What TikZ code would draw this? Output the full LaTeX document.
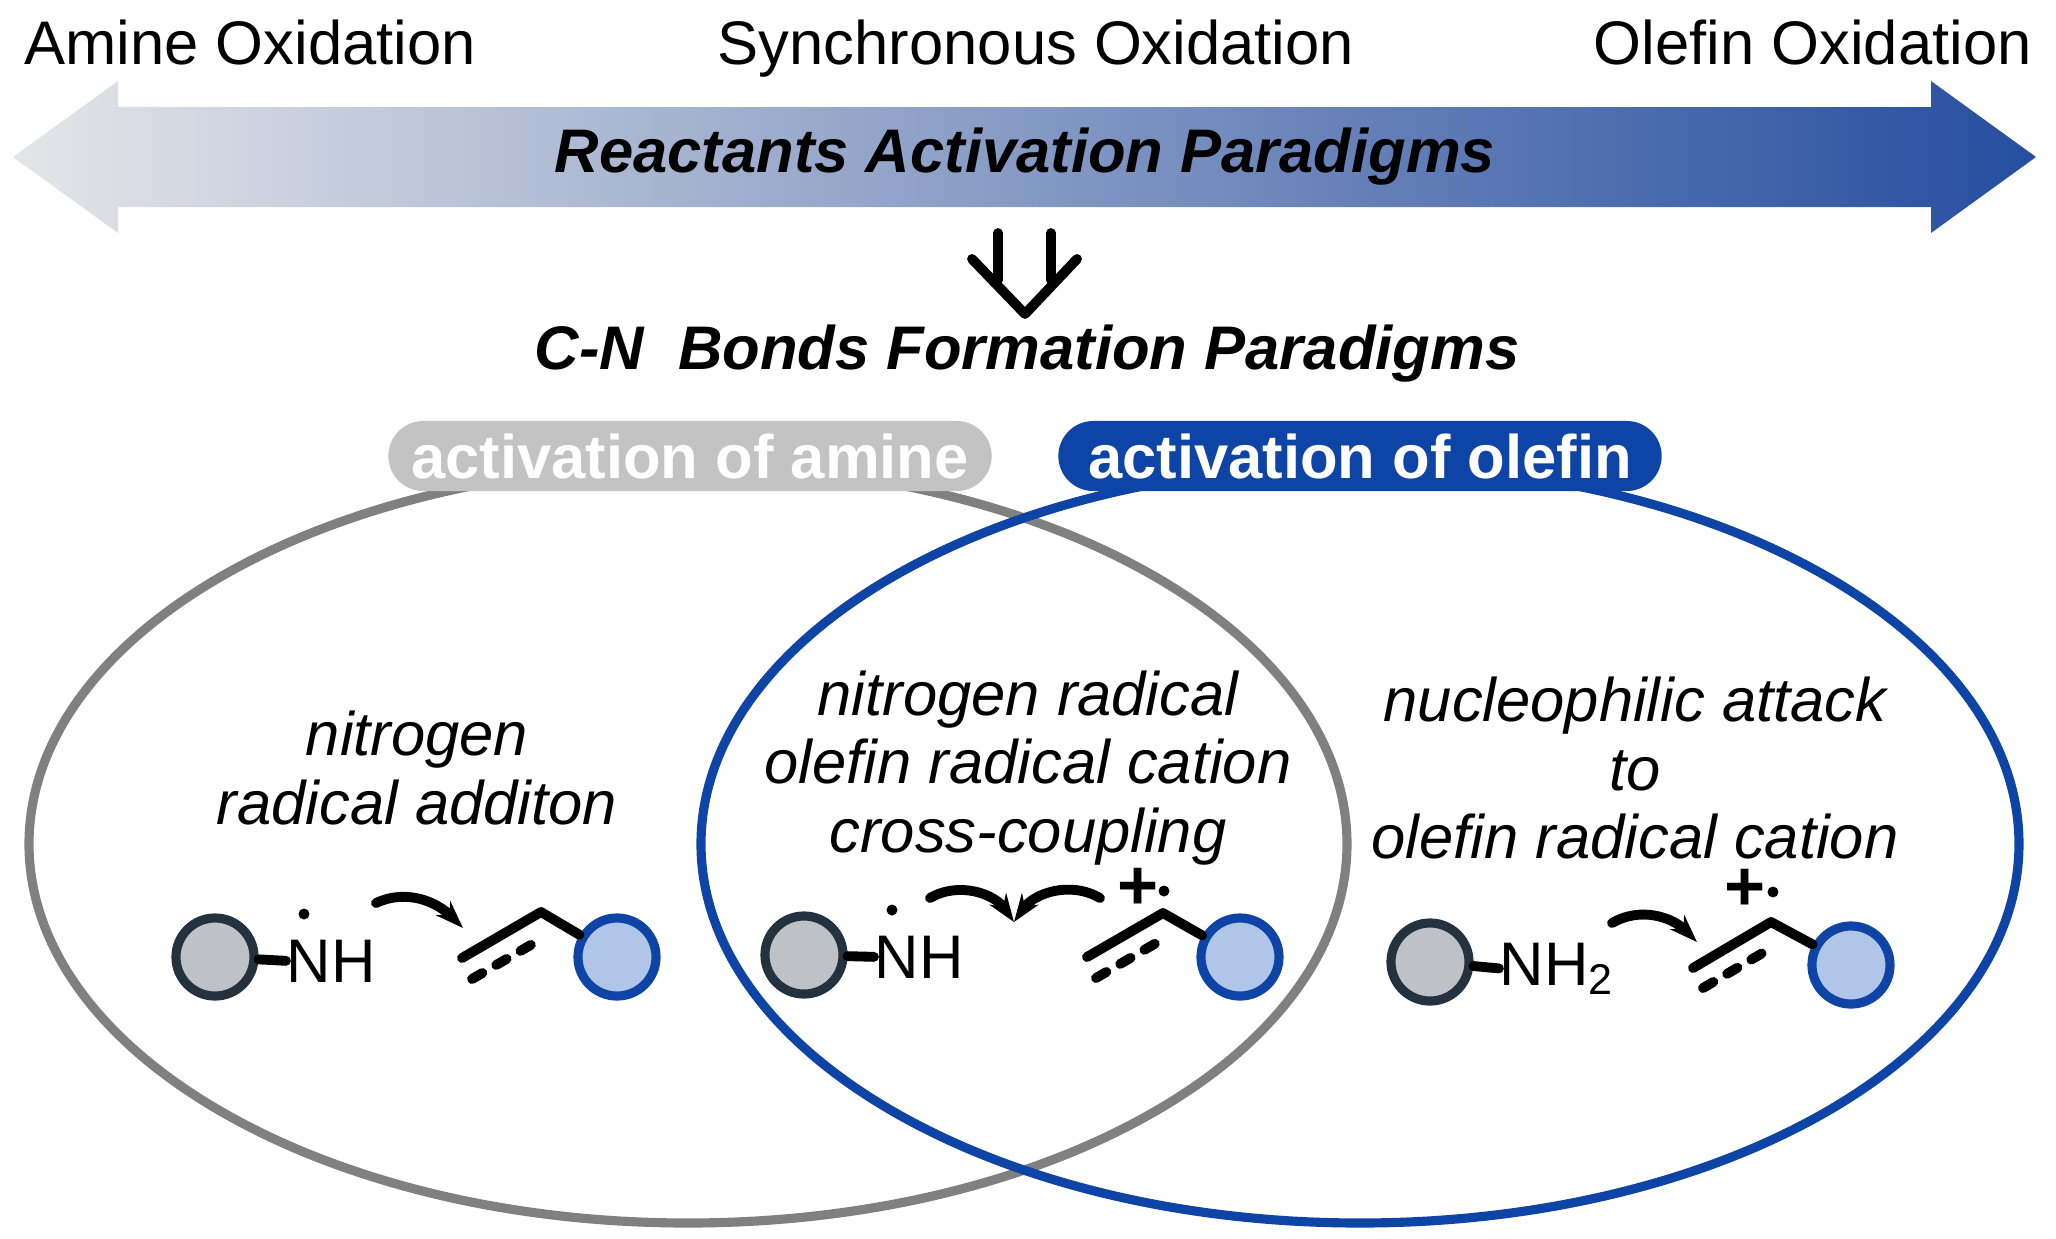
\documentclass[tikz,border=0pt]{standalone}
\usepackage{fontspec}
\setmainfont{Liberation Sans}
\usetikzlibrary{arrows.meta}
\definecolor{amgray}{RGB}{128,128,128}
\definecolor{pillgray}{RGB}{195,195,195}
\definecolor{olblue}{RGB}{14,68,165}
\definecolor{arrowleft}{RGB}{228,229,232}
\definecolor{arrowright}{RGB}{38,78,160}
\definecolor{ringdark}{RGB}{35,50,62}
\definecolor{ringfill}{RGB}{190,194,198}
\definecolor{bluefill}{RGB}{176,197,232}
\tikzset{
  lbl/.style={font=\fontsize{17.5}{21}\selectfont},
  ital/.style={font=\fontsize{17.5}{19.6}\selectfont\itshape,align=center},
  bi/.style={font=\fontsize{17.5}{21}\selectfont\bfseries\itshape},
  pill/.style={rounded corners=0.35cm,minimum height=0.7cm,text=white,
     font=\fontsize{17.5}{21}\selectfont\bfseries},
  amine/.style={circle,draw=ringdark,fill=ringfill,line width=2.6pt,minimum size=0.78cm,inner sep=0pt},
  olefin/.style={circle,draw=olblue,fill=bluefill,line width=2.6pt,minimum size=0.78cm,inner sep=0pt},
  bond/.style={line width=2.8pt,line cap=round},
  dbond/.style={line width=2.8pt,line cap=round,dash pattern=on 0.12cm off 0.16cm},
  push/.style={line width=2.8pt,line cap=round,-{Stealth[length=0.28cm,width=0.2cm]}},
  dot/.style={circle,fill=black,inner sep=0pt,minimum size=0.11cm}
}
\begin{document}
\begin{tikzpicture}[x=0.01cm,y=-0.01cm]
\useasboundingbox (0,0) rectangle (2056,1238);
% top scale
\shade[left color=arrowleft,right color=arrowright]
  (13,157) -- (118,81) -- (118,107) -- (1931,107) -- (1931,81) -- (2036,157)
  -- (1931,233) -- (1931,207) -- (118,207) -- (118,233) -- cycle;
\node[lbl,anchor=base west] (amox) at (12,64) {Amine Oxidation};
\node[lbl,anchor=base] (synox) at (1036,64) {Synchronous Oxidation};
\node[lbl,anchor=base east] (olox) at (2044,64) {Olefin Oxidation};
\node[bi] (rap) at (1025,157) {Reactants Activation Paradigms};
% down arrow
\draw[bond] (998,233) -- (998,280) (1051,233) -- (1051,280);
\draw[bond,line join=round] (972,259) -- (1025,314) -- (1077,259);
\node[bi] (cnp) at (1027,354) {C-N\ \ Bonds Formation Paradigms};
% two sets
\draw[amgray,line width=2.6pt] (688,844) ellipse (659 and 379);
\draw[olblue,line width=2.6pt] (1360,844) ellipse (659 and 379);
\node[pill,fill=pillgray,minimum width=6.03cm] (actam) at (690,456) {activation of amine};
\node[pill,fill=olblue,minimum width=6.03cm] (actol) at (1360,456) {activation of olefin};
\node[ital] (t1) at (417,768) {nitrogen\\radical additon};
\node[ital] (t2) at (1028,768) {nitrogen radical\\olefin radical cation\\cross-coupling};
\node[ital] (t3) at (1635,768) {nucleophilic attack\\to\\olefin radical cation};
% left: nitrogen radical addition
\node[amine] (g1) at (215,957) {};
\node[lbl,anchor=base west,inner sep=0pt] (n1) at (286,982) {NH};
\node[dot] (d1) at (304,914) {};
\draw[bond] (g1) -- (n1.west);
\coordinate (o1a) at (462,958); \coordinate (o1b) at (541,912);
\coordinate (o1c) at (472,979); \coordinate (o1d) at (541,939);
\node[olefin] (b1) at (617,957) {};
\draw[bond,line join=round] (o1a) -- (o1b) -- (b1);
\draw[dbond] (o1c) -- (o1d);
\coordinate (p1s) at (376,903); \coordinate (p1e) at (463,928);
\draw[push] (p1s) to[out=25,in=135] (p1e);
% middle: cross-coupling
\node[amine] (g2) at (804,955) {};
\node[lbl,anchor=base west,inner sep=0pt] (n2) at (874,978) {NH};
\node[dot] (d2) at (892,910) {};
\draw[bond] (g2) -- (n2.west);
\coordinate (o2a) at (1087,957); \coordinate (o2b) at (1163,913);
\coordinate (o2c) at (1096,978); \coordinate (o2d) at (1163,939);
\node[olefin] (b2) at (1240,957) {};
\draw[bond,line join=round] (o2a) -- (o2b) -- (b2);
\draw[dbond] (o2c) -- (o2d);
\node[font=\fontsize{20}{20}\selectfont\bfseries] (c2) at (1138,889) {+};
\node[dot] (r2) at (1164,891) {};
\coordinate (p2s) at (930,898); \coordinate (p2m) at (1014,922); \coordinate (p2t) at (1100,898);
\draw[push] (p2s) to[out=30,in=125] (p2m);
\draw[push] (p2t) to[out=150,in=55] (p2m);
% right: nucleophilic attack
\node[amine] (g3) at (1430,962) {};
\node[lbl,anchor=base west,inner sep=0pt] (n3) at (1499,985) {NH\textsubscript{2}};
\draw[bond] (g3) -- (n3.west);
\coordinate (o3a) at (1693,968); \coordinate (o3b) at (1771,922);
\coordinate (o3c) at (1703,988); \coordinate (o3d) at (1771,948);
\node[olefin] (b3) at (1851,965) {};
\draw[bond,line join=round] (o3a) -- (o3b) -- (b3);
\draw[dbond] (o3c) -- (o3d);
\node[font=\fontsize{20}{20}\selectfont\bfseries] (c3) at (1745,890) {+};
\node[dot] (r3) at (1773,892) {};
\coordinate (p3s) at (1612,923); \coordinate (p3e) at (1697,942);
\draw[push] (p3s) to[out=30,in=135] (p3e);
\end{tikzpicture}
\end{document}
